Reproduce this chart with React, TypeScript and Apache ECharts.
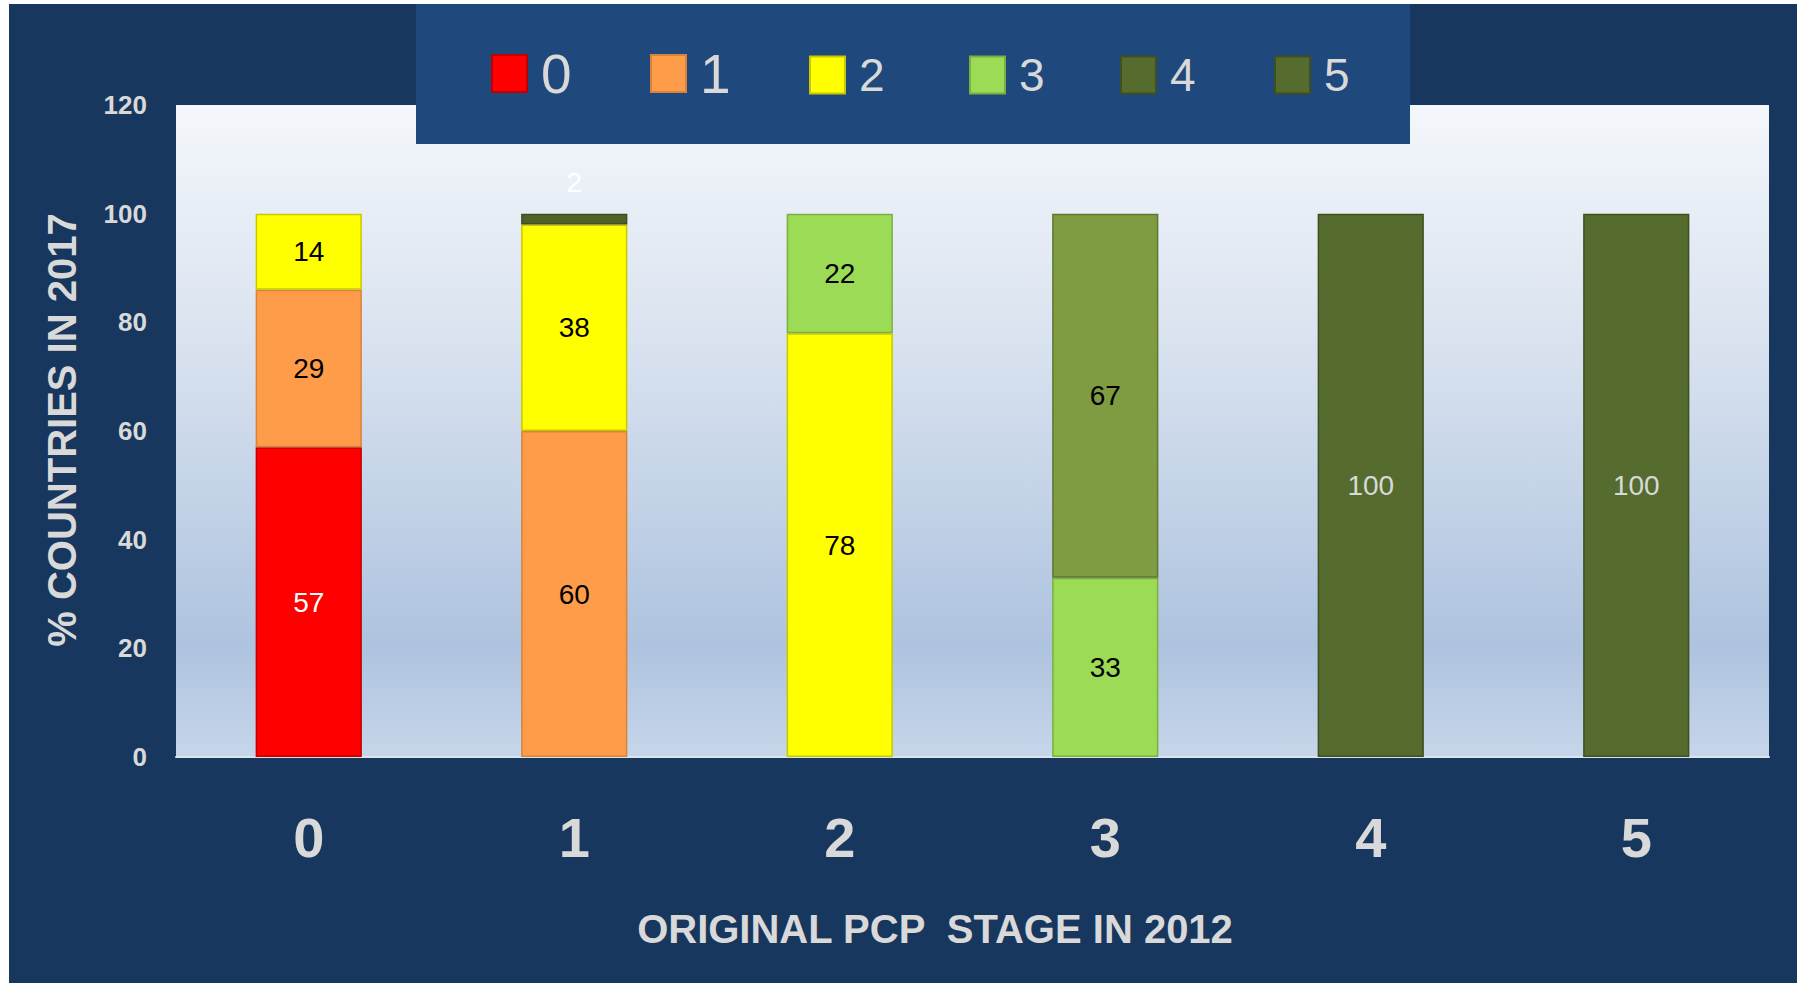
import React, { useEffect, useRef } from 'react';
import * as echarts from 'echarts';

// ---- data ----
const categories = ['0', '1', '2', '3', '4', '5'];
const seriesNames = ['0', '1', '2', '3', '4', '5'];
const stage0 = [57, null, null, null, null, null];
const stage1 = [29, 60, null, null, null, null];
const stage2 = [14, 38, 78, null, null, null];
const stage3 = [null, null, 22, 33, null, null];
const stage4 = [null, 2, null, 67, 100, null];
const stage5 = [null, null, null, null, null, 100];
const stageValues = [stage0, stage1, stage2, stage3, stage4, stage5];

const yMin = 0;
const yMax = 120;
const yStep = 20;

const xTitle = 'ORIGINAL PCP  STAGE IN 2012';
const yTitle = '% COUNTRIES IN 2017';

// ---- style ----
const colors = ['#FF0000', '#FF9C4A', '#FFFF00', '#9BDB55', '#566B2E', '#566B2E'];
const borderColors = ['#C00000', '#D9823A', '#C8C800', '#7BB03F', '#3F4F20', '#3F4F20'];
const labelColors = ['#FFFFFF', '#000000', '#000000', '#000000', '#D9D9D9', '#D9D9D9'];
const FONT = '"Liberation Sans", Arial, sans-serif';
const OX = 9;
const OY = 4;
const W = 1797 - OX;
const H = 983 - OY;
const legendLeft = [491, 650, 809, 969, 1120, 1274];
const legendFont = [55, 55, 46, 46, 46, 46];
const legendTop = [42, 42, 48, 48, 48, 48];

function buildSeries() {
  return stageValues.map((vals, si) => {
    const data = vals.map((v, i) => {
      if (si === 4 && i === 3) {
        return {
          value: v,
          itemStyle: { color: '#7F9C42', borderColor: '#5F7830' },
          label: { color: '#000000' },
        };
      }
      if (si === 4 && i === 1) {
        return {
          value: v,
          itemStyle: { color: '#4F6228' },
          label: { position: 'top', distance: 17, color: '#FFFFFF' },
        };
      }
      return v;
    });
    return {
      name: seriesNames[si],
      type: 'bar',
      stack: 'total',
      barWidth: '40%',
      data,
      itemStyle: {
        color: colors[si],
        borderColor: borderColors[si],
        borderWidth: 1.5,
      },
      label: {
        show: true,
        position: 'inside',
        color: labelColors[si],
        fontSize: 28,
        fontFamily: FONT,
      },
    };
  });
}

export default function App() {
  const ref = useRef<HTMLDivElement>(null);
  useEffect(() => {
    if (!ref.current) return;
    const chart = echarts.init(ref.current, null, { renderer: 'svg' });
    const option = {
      animation: false,
      backgroundColor: '#17375E',
      grid: {
        left: 176 - OX,
        right: 1797 - 1769,
        top: 105 - OY,
        bottom: 983 - 757,
        show: true,
        borderWidth: 0,
        backgroundColor: new echarts.graphic.LinearGradient(0, 0, 0, 1, [
          { offset: 0, color: '#F4F7FB' },
          { offset: 0.4, color: '#D6E0EE' },
          { offset: 0.83, color: '#AEC3DF' },
          { offset: 1, color: '#C6D6EA' },
        ]),
      },
      legend: seriesNames.map((n, i) => ({
        data: [n],
        left: legendLeft[i] - OX,
        top: legendTop[i],
        padding: 0,
        itemWidth: 35,
        itemHeight: 37,
        icon: 'rect',
        z: 5,
        textStyle: {
          color: '#D9D9D9',
          fontSize: legendFont[i],
          lineHeight: 37,
          fontFamily: FONT,
          padding: [0, 0, 0, 9],
        },
      })),
      xAxis: {
        type: 'category',
        data: categories,
        axisTick: { show: false },
        axisLine: { lineStyle: { color: '#DCE4EE', width: 2 } },
        axisLabel: {
          color: '#D9D9D9',
          fontSize: 56,
          fontWeight: 'bold',
          fontFamily: FONT,
          margin: 52,
        },
      },
      yAxis: {
        type: 'value',
        min: yMin,
        max: yMax,
        interval: yStep,
        splitLine: { show: false },
        axisLine: { show: false },
        axisTick: { show: false },
        axisLabel: {
          color: '#D9D9D9',
          fontSize: 26,
          fontWeight: 'bold',
          fontFamily: FONT,
          margin: 29,
        },
      },
      graphic: [
        {
          type: 'rect',
          z: 1,
          shape: { x: 416 - OX, y: 0, width: 1410 - 416, height: 144 - OY },
          style: { fill: '#1F497D' },
        },
        {
          type: 'text',
          z: 5,
          x: 935 - OX,
          y: 929 - OY,
          style: {
            text: xTitle,
            fill: '#D9D9D9',
            fontSize: 40,
            fontWeight: 'bold',
            fontFamily: FONT,
            align: 'center',
            verticalAlign: 'middle',
          },
        },
        {
          type: 'text',
          z: 5,
          x: 62 - OX,
          y: 430 - OY,
          rotation: Math.PI / 2,
          style: {
            text: yTitle,
            fill: '#D9D9D9',
            fontSize: 40,
            fontWeight: 'bold',
            fontFamily: FONT,
            align: 'center',
            verticalAlign: 'middle',
          },
        },
      ],
      series: buildSeries(),
    };
    chart.setOption(option as any);
    return () => chart.dispose();
  }, []);
  return (
    <div
      ref={ref}
      style={{ position: 'fixed', left: OX, top: OY, width: W, height: H }}
    />
  );
}
